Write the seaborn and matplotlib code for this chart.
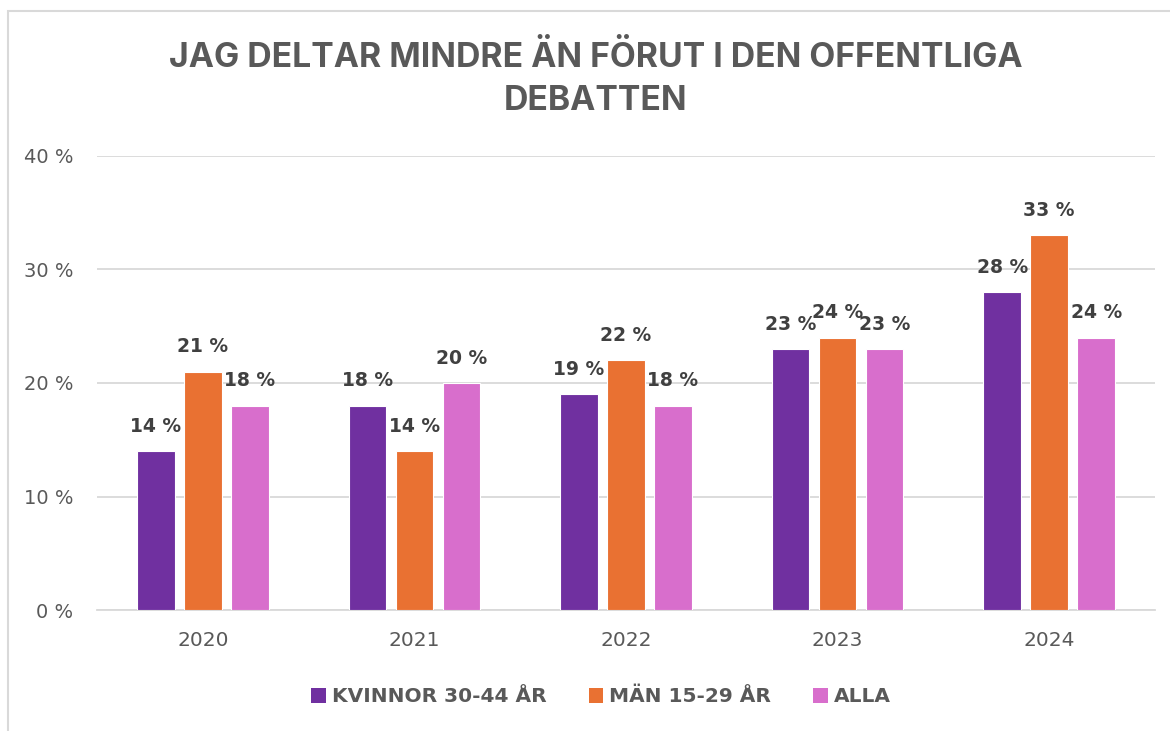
import matplotlib
matplotlib.use("Agg")
import matplotlib.pyplot as plt
import seaborn as sns
import pandas as pd
from matplotlib.patches import Rectangle, Patch

years = ["2020", "2021", "2022", "2023", "2024"]
series_names = ["KVINNOR 30-44 ÅR", "MÄN 15-29 ÅR", "ALLA"]
kvinnor = [14, 18, 19, 23, 28]
man = [21, 14, 22, 24, 33]
alla = [18, 20, 18, 23, 24]
colors = ["#7030A0", "#E97132", "#D86ECC"]
y_ticks = [0, 10, 20, 30, 40]
y_tick_labels = ["0 %", "10 %", "20 %", "30 %", "40 %"]
title = "JAG DELTAR MINDRE ÄN FÖRUT I DEN OFFENTLIGA\nDEBATTEN"

rows = []
for name, vals in zip(series_names, [kvinnor, man, alla]):
    for y, v in zip(years, vals):
        rows.append({"year": y, "series": name, "value": v})
df = pd.DataFrame(rows)

sns.set_theme(style="white")
plt.rcParams["font.family"] = ["DejaVu Sans"]

fig = plt.figure(figsize=(11.7, 7.31), dpi=100)
ax = fig.add_axes([97/1170, 1-610/731, (1155-97)/1170, (610-156)/731])

sns.barplot(data=df, x="year", y="value", hue="series", order=years,
            hue_order=series_names, palette=colors, saturation=1,
            width=0.667, gap=0.2, edgecolor="white", linewidth=0.8,
            ax=ax, legend=False, zorder=3)

ax.set_ylim(0, 40)
ax.set_xlim(-0.5, 4.5)
ax.set_yticks(y_ticks)
ax.set_yticklabels(y_tick_labels)
ax.set_xlabel("")
ax.set_ylabel("")
ax.yaxis.grid(True, color="#D9D9D9", linewidth=1.3, zorder=0)
ax.set_axisbelow(True)
for s in ["top", "right", "left"]:
    ax.spines[s].set_visible(False)
ax.spines["bottom"].set_color("#D9D9D9")
ax.spines["bottom"].set_linewidth(1.3)
ax.tick_params(axis="y", length=0, pad=17, labelsize=14, labelcolor="#595959")
ax.tick_params(axis="x", length=0, pad=15, labelsize=14.5, labelcolor="#595959")

for cont in ax.containers:
    for bar in cont:
        h = bar.get_height()
        ax.annotate(f"{h:.0f} %", (bar.get_x() + bar.get_width()/2, h),
                    xytext=(0, 11), textcoords="offset points",
                    ha="center", va="bottom", fontsize=13.5, fontweight="bold",
                    color="#404040", clip_on=False, zorder=5)

fig.text(596/1170, 1-41/731, title, ha="center", va="top", fontsize=24.3,
         fontweight="bold", color="#595959", linespacing=1.45,
         family=["Inter", "DejaVu Sans"])

handles = [Patch(facecolor=c, edgecolor="none") for c in colors]
leg = fig.legend(handles, series_names, loc="center", bbox_to_anchor=(601/1170, 1-697/731),
                 ncol=3, frameon=False, handlelength=0.72, handleheight=0.72,
                 handletextpad=0.3, columnspacing=2.1,
                 prop={"size": 14.5, "weight": "bold", "family": "DejaVu Sans"})
for t in leg.get_texts():
    t.set_color("#595959")

fig.patches.append(Rectangle((8/1170, -0.1), 1.2, 1-11/731+0.1, transform=fig.transFigure,
                             fill=False, edgecolor="#D9D9D9", linewidth=1.5))

fig.savefig("out.png", dpi=100)
